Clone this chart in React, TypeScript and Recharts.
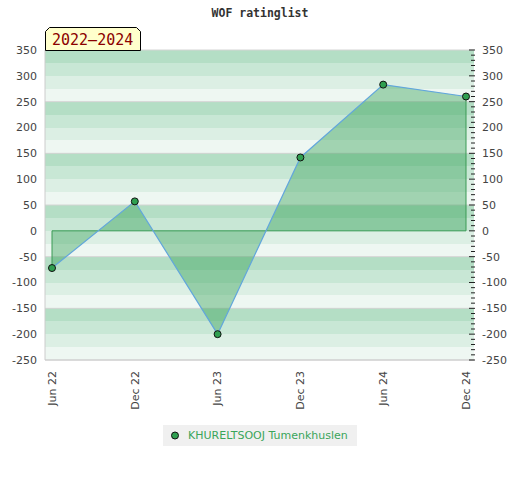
import { ComposedChart, Area, Line, XAxis, YAxis, CartesianGrid, ReferenceLine } from 'recharts';

const periods = ['Jun 22', 'Dec 22', 'Jun 23', 'Dec 23', 'Jun 24', 'Dec 24'];
const ratingChange = [-72, 57, -200, 142, 283, 260];
const yTicks = [-250, -200, -150, -100, -50, 0, 50, 100, 150, 200, 250, 300, 350];
const bandEdges = [350, 325, 300, 275, 250, 225, 200, 175, 150, 125, 100, 75, 50, 25, 0, -25, -50, -75, -100, -125, -150, -175, -200, -225, -250];
const gridLevels = [350, 250, 150, 50, -50, -150, -250];
// minor ticks on the right axis, every 10 points
const minorTicks = Array.from({ length: 61 }, (_, i) => -250 + i * 10);

const bandColors = ['#b4dec5', '#c8e7d5', '#dcefe4', '#eef7f2'];
const green = '#3a9a55';
const dotGreen = '#2f9f50';
const font = '"DejaVu Sans", sans-serif';

const data = periods.map((period, i) => ({ period, value: ratingChange[i] }));
const first = periods[0];
const last = periods[periods.length - 1];

function LeftTick({ x, y, payload }: any) {
  return (
    <text x={x - 8} y={y} dy="0.35em" textAnchor="end" fontSize={11} fontFamily={font} fill="#444">
      {payload.value}
    </text>
  );
}

function RightTick({ x, y, payload }: any) {
  const major = payload.value % 50 === 0;
  return (
    <g>
      <line x1={x - (major ? 5 : 3)} x2={x + 1} y1={y} y2={y} stroke="#222" strokeWidth={1} />
      {major && (
        <text x={x + 8} y={y} dy="0.35em" textAnchor="start" fontSize={11} fontFamily={font} fill="#444">
          {payload.value}
        </text>
      )}
    </g>
  );
}

function BottomTick({ x, y, payload }: any) {
  const ty = y + 11;
  return (
    <text
      x={x}
      y={ty}
      dy="0.35em"
      textAnchor="end"
      transform={`rotate(-90, ${x}, ${ty})`}
      fontSize={11}
      fontFamily={font}
      fill="#444"
    >
      {payload.value}
    </text>
  );
}

function Dot({ cx, cy }: any) {
  return <circle cx={cx} cy={cy} r={3.5} fill={dotGreen} stroke="#111" strokeWidth={1} />;
}

export default function App() {
  return (
    <div style={{ position: 'relative', width: 520, height: 480 }}>
      <style>{'body { margin: 0; }'}</style>
      <ComposedChart width={520} height={480} data={data} margin={{ top: 50, right: 0, bottom: 70, left: 0 }}>
        <CartesianGrid
          yAxisId="left"
          vertical={false}
          horizontalValues={bandEdges}
          horizontalFill={bandColors}
          stroke="none"
        />
        <CartesianGrid yAxisId="left" vertical={false} horizontalValues={gridLevels} stroke="#d4d4d4" fill="none" />
        <XAxis
          dataKey="period"
          scale="point"
          padding={{ left: 7, right: 8 }}
          interval={0}
          height={50}
          tickSize={0}
          tickMargin={0}
          tickLine={false}
          axisLine={{ stroke: '#cccccc' }}
          tick={<BottomTick />}
        />
        <YAxis
          yAxisId="left"
          domain={[-250, 350]}
          ticks={yTicks}
          interval={0}
          width={45}
          tickSize={0}
          tickMargin={0}
          tickLine={false}
          axisLine={{ stroke: '#cccccc' }}
          tick={<LeftTick />}
        />
        <YAxis
          yAxisId="right"
          orientation="right"
          domain={[-250, 350]}
          allowDataOverflow
          ticks={minorTicks}
          interval={0}
          width={46}
          tickSize={0}
          tickMargin={0}
          tickLine={false}
          axisLine={false}
          tick={<RightTick />}
        />
        <Area
          yAxisId="left"
          dataKey="value"
          baseValue={0}
          type="linear"
          fill="#2e9e4f"
          fillOpacity={0.4}
          stroke="none"
          dot={false}
          activeDot={false}
          isAnimationActive={false}
        />
        <ReferenceLine yAxisId="left" segment={[{ x: first, y: 0 }, { x: last, y: 0 }]} stroke={green} strokeWidth={1} />
        <ReferenceLine yAxisId="left" segment={[{ x: first, y: 0 }, { x: first, y: ratingChange[0] }]} stroke={green} strokeWidth={1} />
        <ReferenceLine
          yAxisId="left"
          segment={[{ x: last, y: 0 }, { x: last, y: ratingChange[ratingChange.length - 1] }]}
          stroke={green}
          strokeWidth={1}
        />
        <Line
          yAxisId="left"
          dataKey="value"
          type="linear"
          stroke="#62a6dc"
          strokeWidth={1.2}
          dot={<Dot />}
          activeDot={false}
          isAnimationActive={false}
        />
      </ComposedChart>
      <svg width={520} height={52} style={{ position: 'absolute', left: 0, top: 0, pointerEvents: 'none' }}>
        <text x={260} y={17} textAnchor="middle" fontSize={11.5} fontWeight="bold" fontFamily='"DejaVu Sans Mono", monospace' fill="#333">
          WOF ratinglist
        </text>
        <path d="M45.5,50.5 L45.5,31.5 L49.5,27.5 L136.5,27.5 L140.5,31.5 L140.5,50.5 Z" fill="#ffffcc" stroke="#000" strokeWidth={1} />
        <text x={52} y={45} fontSize={15} fontFamily='"DejaVu Sans Mono", monospace' fill="#8b0000">
          2022–2024
        </text>
      </svg>
      <div
        style={{
          position: 'absolute',
          left: 163,
          top: 425,
          width: 194,
          height: 21,
          background: '#f0f0f0',
          display: 'flex',
          alignItems: 'center',
          fontFamily: font,
          fontSize: 11,
          color: '#3aa55a',
        }}
      >
        <svg width={25} height={21}>
          <circle cx={12} cy={10.5} r={3.5} fill={dotGreen} stroke="#111" strokeWidth={1} />
        </svg>
        <span>KHURELTSOOJ Tumenkhuslen</span>
      </div>
    </div>
  );
}
